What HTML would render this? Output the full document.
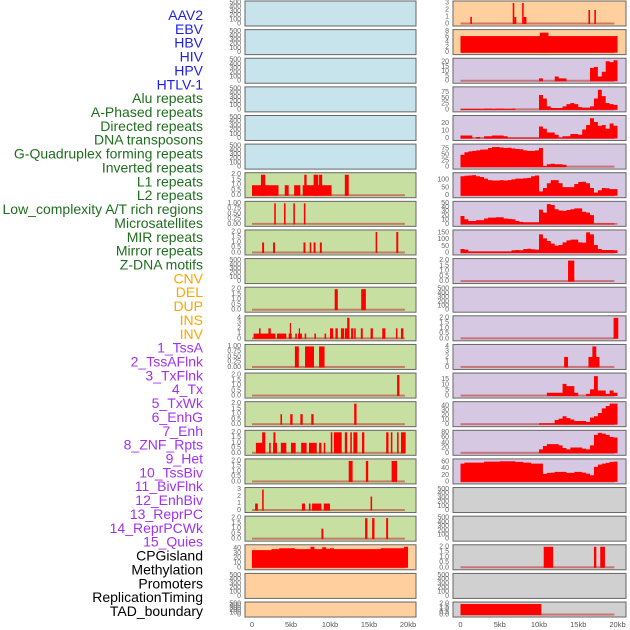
<!DOCTYPE html>
<html><head><meta charset="utf-8"><style>
html,body{margin:0;padding:0;background:#fff;}
svg{display:block;font-family:"Liberation Sans",sans-serif;}
</style></head><body>
<svg id="chart" width="630" height="630" viewBox="0 0 630 630" xmlns="http://www.w3.org/2000/svg"></svg>
<script>
// ---------- labels ----------
const trackLabels = ["AAV2","EBV","HBV","HIV","HPV","HTLV-1","Alu repeats","A-Phased repeats","Directed repeats","DNA transposons","G-Quadruplex forming repeats","Inverted repeats","L1 repeats","L2 repeats","Low_complexity A/T rich regions","Microsatellites","MIR repeats","Mirror repeats","Z-DNA motifs","CNV","DEL","DUP","INS","INV","1_TssA","2_TssAFlnk","3_TxFlnk","4_Tx","5_TxWk","6_EnhG","7_Enh","8_ZNF_Rpts","9_Het","10_TssBiv","11_BivFlnk","12_EnhBiv","13_ReprPC","14_ReprPCWk","15_Quies","CPGisland","Methylation","Promoters","ReplicationTiming","TAD_boundary"];
const labelGroups = [6,13,5,15,5];
const xTickLabels = ["0","5kb","10kb","15kb","20kb"];
const xTickValues = [0,5,10,15,20];

// ---------- left column: [startKb, endKb, value] ----------
const leftRow6 = [[0,3.4,1],[1.15,1.7,2],[4.2,4.7,1],[5.4,6.2,1],[6.5,10.2,1],[6.7,7.0,2],[7.9,8.5,2],[8.6,9.0,2],[11.9,12.4,2]];
const leftRow7 = [[2.85,3.05,1],[4.1,4.3,1],[5.3,5.5,1],[6.65,6.85,1]];
const leftRow8 = [[1.3,1.55,1],[2.7,2.95,1],[6.6,6.85,1],[7.4,7.6,1],[7.9,8.15,1],[8.7,8.95,1],[15.85,16.05,2],[18.5,18.75,2]];
const leftRow10 = [[10.6,11.0,2],[14.0,14.6,2]];
const leftRow11 = [[0.2,3.0,1],[0.9,1.1,2],[2.1,2.4,2],[3.2,4.4,1],[4.7,5.1,1],[4.85,5.0,3],[5.55,5.75,1],[5.9,6.4,1],[6.0,6.15,2],[6.75,6.95,1],[8.0,8.2,1],[9.3,9.5,1],[10.0,10.4,2],[10.7,11.0,2],[11.4,11.8,2],[11.9,12.5,2],[12.2,12.5,4],[12.7,13.0,2],[13.1,13.3,2],[13.95,14.2,2],[15.2,15.5,2],[16.7,17.1,2],[18.45,18.65,2],[19.1,19.4,2]];
const leftRow12 = [[5.5,6.0,1],[6.8,7.95,1],[8.6,9.3,1]];
const leftRow13 = [[18.6,18.9,2]];
const leftRow14 = [[3.65,3.85,1],[4.9,5.2,1],[6.2,6.5,1],[7.6,7.9,1],[13.1,13.4,2]];
const leftRow15 = [[0.5,1.7,1],[1.3,1.7,2],[2.2,2.4,1],[2.7,3.2,1],[2.75,3.0,2],[3.7,4.4,1],[5.0,5.6,1],[6.3,7.0,1],[7.3,8.3,1],[8.6,8.9,1],[9.2,9.4,1],[10.1,10.3,2],[10.5,11.5,2],[11.9,12.2,2],[12.6,12.8,2],[13.0,13.5,2],[14.1,14.4,2],[17.2,17.5,2],[17.8,18.0,2],[18.6,18.8,2],[19.1,19.7,2]];
const leftRow16 = [[12.4,12.9,2],[14.6,14.9,2],[17.9,18.6,2]];
const leftRow17 = [[0.4,0.75,1],[1.3,1.5,3],[6.4,6.8,1],[7.3,7.5,1],[7.7,8.9,1],[9.2,10.0,1],[15.2,15.4,2]];
const leftRow18 = [[8.9,9.15,1],[14.5,14.8,2],[15.4,15.7,2],[17.2,17.45,2]];
const cpgProfile = [37,37,37,37,37,39,39,41,41,41,41,39,39,39,39,44,39,39,43,40,41,39,39,39,39,39,39,39,39,39,39,39,39,41,41,41,41,41,41,44];

// ---------- right column ----------
const rightRow0 = [[1.25,1.45,1],[6.65,6.85,3],[6.85,7.1,1],[7.85,8.05,3],[8.05,8.4,1],[16.3,16.5,2],[17.05,17.25,2]];
const rightRow1 = [[0,20,6.3],[10.1,11.2,7.6]];
const hivProfile = [0,0,0,0,0,0,0,0,0,0,0,0,0,0,0,0,0,0,0,0,3,0,0,0,5,3,3,0,0,0,0,0,0,14,15,5,10,21,20,22];
const aluProfile = [4,4,4,4,4,4,5,5,4,5,5,4,4,5,0,0,0,0,0,0,65,50,15,8,8,8,15,25,30,25,12,10,10,15,50,88,60,30,25,22];
const aPhasedProfile = [4,4,4,0,2,0,3,3,4,4,4,3,1,1,1,1,1,1,1,1,16,13,8,8,5,1,3,3,6,6,5,12,18,27,22,17,18,13,20,17];
const directedProfile = [52,62,66,68,70,73,74,80,84,84,82,80,81,78,76,75,70,68,68,70,80,4,12,14,12,12,10,0,0,0,0,0,0,0,0,0,0,0,0,0];
const dnaTransProfile = [125,128,130,132,125,120,110,100,98,98,100,98,100,105,110,110,112,115,125,130,28,50,80,100,100,80,55,55,55,75,88,90,80,50,20,35,50,48,42,42];
const gQuadProfile = [20,12,8,8,10,10,14,16,16,17,17,14,13,12,8,6,5,5,5,5,35,28,48,46,36,33,32,34,36,38,38,30,28,22,2,2,2,2,2,2];
const invertedProfile = [30,25,12,12,12,12,12,12,12,12,12,12,12,20,22,20,30,32,28,25,140,110,90,70,55,60,80,95,100,100,80,78,155,140,60,30,22,22,22,20];
const rightRow9 = [[13.7,14.5,2]];
const rightRow11 = [[19.5,20.1,2]];
const rightRow12 = [[13.2,13.7,2],[16.3,17.7,2],[16.8,17.3,4]];
const txFlnkProfile = [0,0,0,0,0,0,0,0,0,0,0,0,0,0,0,0,0,0,0,0,0,0,3,3,3,3,11,9,9,3,0,0,2,6,18,5,5,2,5,3];
const txProfile = [0,0,0,0,0,0,0,0,0,0,0,0,0,0,0,0,0,0,0,0,3,3,3,3,10,13,18,14,11,8,8,8,6,15,18,25,35,40,45,45];
const txWkProfile = [0,0,0,0,0,0,0,0,0,0,0,0,0,0,0,0,0,0,0,0,15,28,35,35,35,30,20,15,22,22,22,18,15,30,70,78,75,70,62,60];
const enhGProfile = [55,58,58,58,58,58,61,61,61,61,62,62,62,62,60,60,58,58,55,55,55,24,27,28,30,30,30,27,27,30,30,28,25,20,45,52,55,57,60,61];
const rightRow19 = [[10.6,11.8,2],[17.0,17.3,2],[17.8,18.4,2]];
const rightRow21 = [[0,10.3,2]];

// ---------- panel config ----------
const T500 = [0,100,200,300,400,500];
const T2 = [0,0.5,1,1.5,2];
const T1 = [0,0.25,0.5,0.75,1];
const BLUE="#c7e3eb", GREEN="#c7e0a2", PEACH="#ffd09e", LAV="#d6c8e2", GRAY="#d0d0d0";
function fmt(t,dec){return t.toFixed(dec);}
const leftPanels = [
 {bg:BLUE,ymax:500,ticks:T500,dec:0},{bg:BLUE,ymax:500,ticks:T500,dec:0},{bg:BLUE,ymax:500,ticks:T500,dec:0},
 {bg:BLUE,ymax:500,ticks:T500,dec:0},{bg:BLUE,ymax:500,ticks:T500,dec:0},{bg:BLUE,ymax:500,ticks:T500,dec:0},
 {bg:GREEN,ymax:2,ticks:T2,dec:1,bars:leftRow6},{bg:GREEN,ymax:1,ticks:T1,dec:2,bars:leftRow7},
 {bg:GREEN,ymax:2,ticks:T2,dec:1,bars:leftRow8},{bg:GREEN,ymax:500,ticks:T500,dec:0},
 {bg:GREEN,ymax:2,ticks:T2,dec:1,bars:leftRow10},{bg:GREEN,ymax:4,ticks:[0,1,2,3,4],dec:0,bars:leftRow11},
 {bg:GREEN,ymax:1,ticks:T1,dec:2,bars:leftRow12},{bg:GREEN,ymax:2,ticks:T2,dec:1,bars:leftRow13},
 {bg:GREEN,ymax:2,ticks:T2,dec:1,bars:leftRow14},{bg:GREEN,ymax:2,ticks:T2,dec:1,bars:leftRow15},
 {bg:GREEN,ymax:2,ticks:T2,dec:1,bars:leftRow16},{bg:GREEN,ymax:3,ticks:[0,1,2,3],dec:0,bars:leftRow17},
 {bg:GREEN,ymax:2,ticks:T2,dec:1,bars:leftRow18},{bg:PEACH,ymax:44,ticks:[0,10,20,30,40],dec:0,prof:cpgProfile},
 {bg:PEACH,ymax:500,ticks:T500,dec:0},{bg:PEACH,ymax:500,ticks:T500,dec:0}
];
const rightPanels = [
 {bg:PEACH,ymax:3,ticks:[0,1,2,3],dec:0,bars:rightRow0},{bg:PEACH,ymax:8,ticks:[0,2,4,6,8],dec:0,bars:rightRow1},
 {bg:LAV,ymax:22,ticks:[0,5,10,15,20],dec:0,prof:hivProfile},{bg:LAV,ymax:92,ticks:[0,25,50,75],dec:0,prof:aluProfile},
 {bg:LAV,ymax:28,ticks:[0,10,20],dec:0,prof:aPhasedProfile},{bg:LAV,ymax:88,ticks:[0,25,50,75],dec:0,prof:directedProfile},
 {bg:LAV,ymax:135,ticks:[0,50,100],dec:0,prof:dnaTransProfile},{bg:LAV,ymax:50,ticks:[0,10,20,30,40,50],dec:0,prof:gQuadProfile},
 {bg:LAV,ymax:158,ticks:[0,50,100,150],dec:0,prof:invertedProfile},{bg:LAV,ymax:2,ticks:T2,dec:1,bars:rightRow9},
 {bg:LAV,ymax:500,ticks:T500,dec:0},{bg:LAV,ymax:2,ticks:T2,dec:1,bars:rightRow11},
 {bg:LAV,ymax:4,ticks:[0,1,2,3,4],dec:0,bars:rightRow12},{bg:LAV,ymax:19,ticks:[0,5,10,15],dec:0,prof:txFlnkProfile},
 {bg:LAV,ymax:45,ticks:[0,10,20,30,40],dec:0,prof:txProfile},{bg:LAV,ymax:80,ticks:[0,20,40,60,80],dec:0,prof:txWkProfile},
 {bg:LAV,ymax:63,ticks:[0,20,40,60],dec:0,prof:enhGProfile},{bg:GRAY,ymax:500,ticks:T500,dec:0},
 {bg:GRAY,ymax:500,ticks:T500,dec:0},{bg:GRAY,ymax:2,ticks:T2,dec:1,bars:rightRow19},
 {bg:GRAY,ymax:500,ticks:T500,dec:0},{bg:GRAY,ymax:2,ticks:T2,dec:1,bars:rightRow21}
];

const NS="http://www.w3.org/2000/svg";
const svg=document.getElementById('chart');
function mk(tag,attrs,parent){const e=document.createElementNS(NS,tag);for(const k in attrs)e.setAttribute(k,attrs[k]);(parent||svg).appendChild(e);return e;}

// labels
const groupColors=["#1f1fe6","#1f6e1f","#ffa500","#a032f0","#000000"];
let gi=0,cnt=0;
trackLabels.forEach((t,k)=>{
  const el=mk('text',{x:203,y:15+k*13.86,'text-anchor':'end','dominant-baseline':'central','font-size':'14',fill:groupColors[gi]});
  
  
  el.textContent=t;
  cnt++; if(cnt>=labelGroups[gi]){gi++;cnt=0;}
});

function rowTop(i){return 1+i*28.62;}
function rowH(i){return i===21?15:25;}

function drawPanel(p,i,px,pw,x0,x1,tickX,side){
  const top=rowTop(i),h=rowH(i);
  const g=mk('g',{});
  
  
  const xs=kb=>x0+(kb/20)*(x1-x0);
  const bottom=top+h-2, span=h-4;
  const ys=v=>bottom-(v/p.ymax)*span;
  const bgR=mk('rect',{x:px,y:top,width:pw,height:h,fill:p.bg,stroke:'#666',"stroke-width":1},g);
  
  
  const empty=!p.bars&&!p.prof;
  if(!empty){
    const b=mk('rect',{x:xs(0),y:bottom-1.5,width:xs(19.6)-xs(0),height:2,fill:'#c0504d',opacity:0.7},g);
    
    
  }
  if(p.bars){p.bars.forEach(b=>{
    const r=mk('rect',{x:xs(b[0]),y:ys(b[2]),width:Math.max(1.2,xs(b[1])-xs(b[0])),height:bottom-ys(b[2]),fill:'#ff0000'},g);
    
    
  });}
  if(p.prof){
    const n=p.prof.length, w=20/n;
    let d='M'+xs(0)+','+bottom;
    p.prof.forEach((v,k)=>{d+=' L'+xs(k*w)+','+ys(v)+' L'+xs((k+1)*w)+','+ys(v);});
    d+=' L'+xs(20)+','+bottom+' Z';
    const a=mk('path',{d:d,fill:'#ff0000'},g);
    
    
  }
  p.ticks.forEach(t=>{
    const tx=mk('text',{x:tickX,y:ys(t),'text-anchor':'end','dominant-baseline':'central','font-size':'7',fill:'#666'},g);
    
    
    tx.textContent=fmt(t,p.dec);
  });
}
leftPanels.forEach((p,i)=>drawPanel(p,i,245,171,252,408,241,'left'));
rightPanels.forEach((p,i)=>drawPanel(p,i,453,173,460.5,617.5,449,'right'));

// x axes
[[252,408,'left'],[460.5,617.5,'right']].forEach(ax=>{
  xTickValues.forEach((v,k)=>{
    const t=mk('text',{x:ax[0]+(v/20)*(ax[1]-ax[0]),y:627,'text-anchor':'middle','font-size':'7.5',fill:'#555'});
    
    
    t.textContent=xTickLabels[k];
  });
});
</script>
</body></html>
